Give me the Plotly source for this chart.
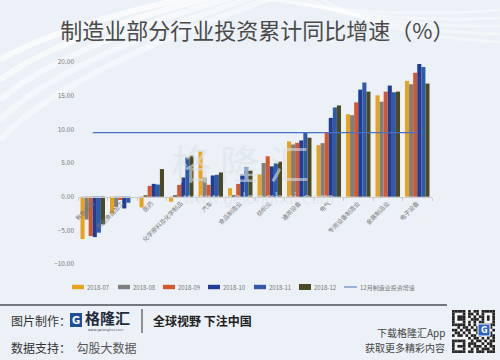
import plotly.graph_objects as go

categories = ["有色金属", "农副食品加工", "医药", "化学原料及化学制品", "汽车", "食品制造业",
              "纺织业", "通用设备", "电气", "专用设备制造业", "金属制品业", "电子设备"]
series_names = ["2018-07", "2018-08", "2018-09", "2018-10", "2018-11", "2018-12"]
v_2018_07 = [-6.3, -2.5, -1.6, -0.75, 6.75, 1.25, 3.3, 8.2, 7.65, 12.25, 15.05, 17.2]
v_2018_08 = [-3.4, -1.5, 0.1, 0.1, 2.85, 0.2, 5.0, 7.75, 7.95, 12.1, 14.1, 16.7]
v_2018_09 = [-5.85, -0.5, 1.6, 1.75, 1.75, 1.9, 6.0, 8.0, 9.6, 14.0, 15.6, 18.4]
v_2018_10 = [-6.0, -1.75, 1.9, 2.85, 3.15, 3.3, 4.5, 8.35, 11.7, 15.9, 16.5, 19.7]
v_2018_11 = [-5.35, -0.9, 1.8, 5.85, 3.25, 4.4, 4.95, 9.6, 13.25, 16.95, 15.5, 19.25]
v_2018_12 = [-4.1, 0.0, 4.1, 6.1, 3.6, 3.9, 5.2, 8.75, 13.55, 15.6, 15.6, 16.8]
series_values = [v_2018_07, v_2018_08, v_2018_09, v_2018_10, v_2018_11, v_2018_12]
series_colors = ["#E8A21C", "#7F7F7F", "#D4582A", "#1F3C96", "#2E5BA8", "#4B4A22"]
line_name = "12月制造业投资增速"
line_value = 9.5
line_color = "#4A70C4"
y_ticks = [-10, -5, 0, 5, 10, 15, 20]

FONT = "Noto Sans CJK SC"
W, H = 500, 360
L, R, T, B = 78, 432, 62, 264


def px(x):
    return (x - L) / (R - L)


def py(y):
    return (B - y) / (B - T)


fig = go.Figure()
for name, vals, col in zip(series_names, series_values, series_colors):
    fig.add_trace(go.Bar(x=categories, y=vals, name=name, marker=dict(color=col, line=dict(width=0))))
fig.add_trace(go.Scatter(x=categories, y=[line_value] * len(categories), mode="lines", name=line_name,
                         line=dict(color=line_color, width=1.2)))

shapes = []
annotations = []

# decorative background streaks (top-left)
for i, (a, b, c) in enumerate([(40, 0, 0.35), (60, 10, 0.3), (80, 22, 0.25), (100, 35, 0.2), (120, 48, 0.18)]):
    shapes.append(dict(type="path", xref="paper", yref="paper",
                       path=f"M {px(0)},{py(a + 20)} Q {px(60)},{py(b + 25)} {px(200 + i * 20)},{py(-5)}",
                       line=dict(color="rgba(255,255,255,%.2f)" % (c + 0.3), width=6), layer="below"))
for i in range(5):
    shapes.append(dict(type="path", xref="paper", yref="paper",
                       path=f"M {px(260 + i * 15)},{py(-2)} Q {px(380)},{py(20 + i * 4)} {px(500)},{py(10 + i * 8)}",
                       line=dict(color="rgba(255,255,255,0.45)", width=3), layer="below"))

# watermark
annotations.append(dict(xref="paper", yref="paper", x=px(240), y=py(162), text="格 隆 汇", showarrow=False,
                        font=dict(family=FONT, size=40, color="rgba(220,226,233,0.6)")))
annotations.append(dict(xref="paper", yref="paper", x=px(258), y=py(210), text="www.gelonghui.com",
                        showarrow=False, font=dict(family="DejaVu Sans", size=15, color="rgba(220,226,233,0.6)")))

# legend (manual)
leg_x = [72, 118, 163, 208, 254, 299]
ly = 287
for xs, name, col in zip(leg_x, series_names, series_colors):
    h = 2.2 if col != "#4B4A22" else 3
    shapes.append(dict(type="rect", xref="paper", yref="paper", x0=px(xs), x1=px(xs + 12),
                       y0=py(ly + h), y1=py(ly - h), fillcolor=col, line=dict(width=0)))
    annotations.append(dict(xref="paper", yref="paper", x=px(xs + 13), y=py(ly), text=name, showarrow=False,
                            xanchor="left", yanchor="middle", font=dict(family=FONT, size=6, color="#777777")))
shapes.append(dict(type="line", xref="paper", yref="paper", x0=px(344), x1=px(357), y0=py(ly), y1=py(ly),
                   line=dict(color=line_color, width=1)))
annotations.append(dict(xref="paper", yref="paper", x=px(358), y=py(ly), text=line_name, showarrow=False,
                        xanchor="left", yanchor="middle", font=dict(family=FONT, size=6, color="#777777")))

# footer separator
shapes.append(dict(type="line", xref="paper", yref="paper", x0=px(0), x1=px(447), y0=py(305), y1=py(305),
                   line=dict(color="#4a4f55", width=1.5)))

# footer texts
annotations.append(dict(xref="paper", yref="paper", x=px(9), y=py(320), text="图片制作：", showarrow=False,
                        xanchor="left", yanchor="middle", font=dict(family=FONT, size=12, color="#333333")))
annotations.append(dict(xref="paper", yref="paper", x=px(9), y=py(347), text="数据支持：  <span style='color:#555'>勾股大数据</span>",
                        showarrow=False, xanchor="left", yanchor="middle",
                        font=dict(family=FONT, size=12, color="#333333")))
# logo
shapes.append(dict(type="rect", xref="paper", yref="paper", x0=px(70), x1=px(82), y0=py(327), y1=py(313),
                   fillcolor="#1E4E9A", line=dict(width=0)))
annotations.append(dict(xref="paper", yref="paper", x=px(76), y=py(320), text="<b>G</b>", showarrow=False,
                        xanchor="center", yanchor="middle", font=dict(family="DejaVu Sans", size=10, color="white")))
annotations.append(dict(xref="paper", yref="paper", x=px(83), y=py(317), text="<b>格隆汇</b>", showarrow=False,
                        xanchor="left", yanchor="middle", font=dict(family=FONT, size=15, color="#1f2a3a")))
annotations.append(dict(xref="paper", yref="paper", x=px(86), y=py(330), text="www.gelonghui.com", showarrow=False,
                        xanchor="left", yanchor="middle", font=dict(family="DejaVu Sans", size=3.5, color="#555")))
shapes.append(dict(type="line", xref="paper", yref="paper", x0=px(142), x1=px(142), y0=py(309), y1=py(333),
                   line=dict(color="#333333", width=1)))
annotations.append(dict(xref="paper", yref="paper", x=px(151), y=py(320), text="<b>全球视野 下注中国</b>",
                        showarrow=False, xanchor="left", yanchor="middle",
                        font=dict(family=FONT, size=12, color="#222222")))
annotations.append(dict(xref="paper", yref="paper", x=px(447), y=py(332), text="下载格隆汇App", showarrow=False,
                        xanchor="right", yanchor="middle", font=dict(family=FONT, size=10, color="#444444")))
annotations.append(dict(xref="paper", yref="paper", x=px(447), y=py(347), text="获取更多精彩内容", showarrow=False,
                        xanchor="right", yanchor="middle", font=dict(family=FONT, size=10, color="#444444")))
# QR code-like block
qx0, qy0, qs = 452, 310, 43
shapes.append(dict(type="rect", xref="paper", yref="paper", x0=px(qx0), x1=px(qx0 + qs), y0=py(qy0 + qs),
                   y1=py(qy0), fillcolor="#f5f5f5", line=dict(width=0)))
pattern = [
    "1111101011011111",
    "1000101101010001",
    "1011101010110101",
    "1011100111010101",
    "1000101010110001",
    "1111101010111111",
    "0010110101000010",
    "1101011011101101",
    "0110101001111010",
    "1011010110100111",
    "0000001011010101",
    "1111100101101011",
    "1000101110010110",
    "1011101011101011",
    "1000100101011101",
    "1111101101110111",
]
cell = qs / 16
for r, row in enumerate(pattern):
    for c, ch in enumerate(row):
        if ch == "1":
            shapes.append(dict(type="rect", xref="paper", yref="paper",
                               x0=px(qx0 + c * cell), x1=px(qx0 + (c + 1) * cell),
                               y0=py(qy0 + (r + 1) * cell), y1=py(qy0 + r * cell),
                               fillcolor="#222222", line=dict(width=0)))
shapes.append(dict(type="rect", xref="paper", yref="paper", x0=px(478), x1=px(490), y0=py(336), y1=py(324),
                   fillcolor="#2a62c9", line=dict(color="white", width=1)))
annotations.append(dict(xref="paper", yref="paper", x=px(484), y=py(330), text="<b>G</b>", showarrow=False,
                        xanchor="center", yanchor="middle", font=dict(family="DejaVu Sans", size=8, color="white")))

fig.update_layout(
    width=W, height=H,
    margin=dict(l=L, r=W - R, t=T, b=H - B, pad=0),
    paper_bgcolor="#EBF1F6", plot_bgcolor="rgba(0,0,0,0)",
    barmode="group", bargap=0.17, bargroupgap=0,
    showlegend=False,
    title=dict(text="制造业部分行业投资累计同比增速（%）", x=0.515, xanchor="center", y=1 - 31 / H, yanchor="middle",
               font=dict(family=FONT, size=22, color="#4a4a4a")),
    font=dict(family=FONT),
    shapes=shapes,
    annotations=annotations,
    xaxis=dict(type="category", anchor="free", position=10 / 30, showline=True, linecolor="#cccccc",
               linewidth=1, tickangle=-45, ticks="outside", tickson="boundaries", ticklen=3,
               tickcolor="#cccccc", tickfont=dict(family=FONT, size=6, color="#777777"),
               showgrid=False, zeroline=False, fixedrange=True),
    yaxis=dict(range=[-10, 20], tickvals=y_ticks, tickformat=".2f", showgrid=False, zeroline=False,
               showline=False, ticks="", tickfont=dict(family=FONT, size=6.5, color="#777777"),
               ticklabelstandoff=3, fixedrange=True),
)

fig.write_html("out.html", config={"displayModeBar": False},
               post_script="document.body.style.margin='0';document.body.style.padding='0';"
                           "document.body.style.overflow='hidden';")
